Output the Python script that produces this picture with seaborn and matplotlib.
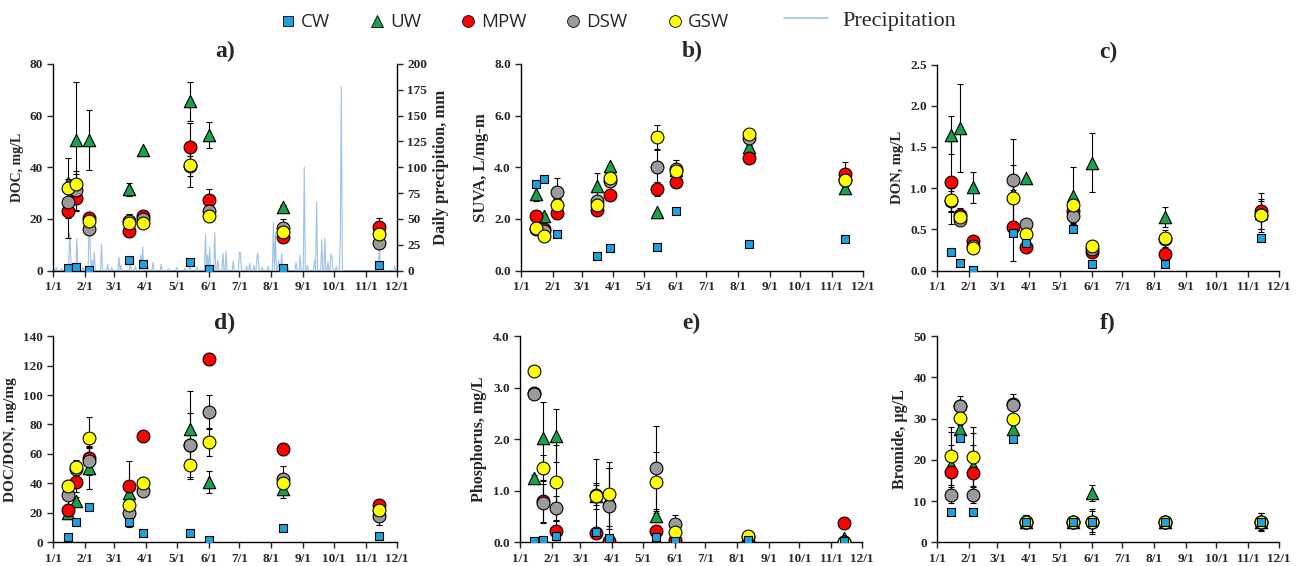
import numpy as np
import pandas as pd
import seaborn as sns
import matplotlib.pyplot as plt
import matplotlib.dates as mdates
import matplotlib.ticker as ticker
from matplotlib.lines import Line2D

sns.set_style("white")
plt.rcParams['font.family'] = ['Liberation Serif', 'DejaVu Serif']
plt.rcParams['font.weight'] = 'bold'

nan = np.nan

# sampling dates
sample_dates = pd.to_datetime(["2019-01-15", "2019-01-23", "2019-02-05", "2019-03-16", "2019-03-29",
                               "2019-05-14", "2019-06-01", "2019-08-12", "2019-11-14"])

sites = ["UW", "MPW", "DSW", "GSW", "CW"]   # draw order
legend_sites = ["CW", "UW", "MPW", "DSW", "GSW"]
colors = {"CW": "#1DA1E2", "UW": "#19A24B", "MPW": "#FF0000", "DSW": "#9B9B9B", "GSW": "#FFFF00"}
markers = {"CW": "s", "UW": "^", "MPW": "o", "DSW": "o", "GSW": "o"}
sizes = {"CW": 28, "UW": 80, "MPW": 85, "DSW": 85, "GSW": 85}

doc = {
    "CW":  [1.0, 1.5, 0.3, 4.0, 2.5, 3.5, 0.5, 1.0, 2.0],
    "UW":  [34, 50.5, 50.5, 31.5, 46.5, 65.5, 52.5, 24.5, 17],
    "MPW": [23, 28, 20.5, 15.5, 21, 48, 27.5, 13, 17],
    "DSW": [26.5, 31, 16, 19, 20, 40.5, 23, 16.5, 10.5],
    "GSW": [32, 33.5, 19, 18.5, 18.5, 41, 21, 15, 14],
}
doc_err = {
    "UW":  [1.5, 22.5, 11.5, 2.5, 1, 7.5, 5, 1, nan],
    "MPW": [10.5, 5, 1, 2.5, 1, 9, 4, 1.5, 3.5],
    "DSW": [3, 7.5, 1, 3, 1, 4, 1.5, 3.5, 1],
    "GSW": [11.5, 4, 1, 2, 1, 8.5, 1, 2, 2],
}

suva = {
    "CW":  [3.35, 3.55, 1.42, 0.57, 0.86, 0.93, 2.30, 1.02, 1.22],
    "UW":  [2.95, 2.10, 2.80, 3.28, 4.05, 2.25, 3.90, 4.78, 3.18],
    "MPW": [2.10, 1.60, 2.22, 2.35, 2.92, 3.15, 3.42, 4.35, 3.73],
    "DSW": [1.60, 1.55, 3.05, 2.70, 3.45, 4.00, 3.95, 5.15, 3.50],
    "GSW": [1.65, 1.32, 2.52, 2.52, 3.58, 5.18, 3.86, 5.28, 3.52],
}
suva_err = {
    "UW":  [0.25, 0.1, 0.1, 0.5, 0.05, 0.05, 0.1, 0.1, 0.1],
    "MPW": [0.05, 0.1, 0.1, 0.1, 0.05, 0.28, 0.1, 0.2, 0.47],
    "DSW": [0.1, 0.15, 0.55, 0.1, 0.1, 0.65, 0.35, 0.1, 0.1],
    "GSW": [0.1, 0.18, 0.1, 0.1, 0.1, 0.47, 0.1, 0.1, 0.1],
}

don = {
    "CW":  [0.22, 0.09, 0.01, 0.46, 0.33, 0.50, 0.08, 0.08, 0.40],
    "UW":  [1.64, 1.73, 1.01, 0.93, 1.12, 0.91, 1.31, 0.65, 0.70],
    "MPW": [1.07, 0.68, 0.36, 0.53, 0.28, 0.72, 0.22, 0.20, 0.72],
    "DSW": [0.84, 0.61, 0.30, 1.10, 0.57, 0.66, 0.26, 0.38, 0.67],
    "GSW": [0.86, 0.65, 0.27, 0.88, 0.44, 0.79, 0.30, 0.39, 0.67],
}
don_err = {
    "UW":  [0.23, 0.53, 0.19, 0.05, 0.02, 0.35, 0.36, 0.12, 0.05],
    "MPW": [0.50, 0.08, 0.03, 0.41, 0.02, 0.12, 0.02, 0.02, 0.22],
    "DSW": [0.13, 0.05, 0.03, 0.50, 0.02, 0.08, 0.02, 0.05, 0.20],
    "GSW": [0.14, 0.05, 0.03, 0.40, 0.02, 0.06, 0.02, 0.10, 0.17],
}

doc_don = {
    "CW":  [3.5, 13.5, 24, 14, 6.5, 6.5, 1.5, 10, 4.5],
    "UW":  [20, 28, 50.5, 33.5, 40, 77, 41, 36, 23],
    "MPW": [22, 41, 57.5, 38, 72.5, 66, 124.5, 63.5, 25],
    "DSW": [32, 50, 55, 20, 34.5, 66, 88.5, 43, 17.5],
    "GSW": [38, 51, 71, 25, 40.5, 52.5, 68, 40.5, 22],
}
doc_don_err = {
    "CW":  [nan, nan, nan, 3.5, nan, nan, nan, nan, nan],
    "UW":  [4, 3, 14, 3, 1, 26, 7.5, 6, 1],
    "MPW": [4, 7, 8, 17.5, 1, 22, 4, 4, 1.5],
    "DSW": [6, 3, 9, 2, 1, 2, 11.5, 9, 6],
    "GSW": [4, 5, 14, 2, 1, 9.5, 9.5, 2, 1],
}

phos = {
    "CW":  [0.02, 0.05, 0.13, 0.20, 0.08, 0.10, 0.02, 0.04, 0.02],
    "UW":  [1.25, 2.02, 2.07, 0.90, 0.85, 0.50, 0.10, 0.05, 0.09],
    "MPW": [2.90, 0.80, 0.21, 0.17, 0.03, 0.22, 0.05, 0.00, 0.37],
    "DSW": [2.88, 0.76, 0.66, 0.92, 0.70, 1.45, 0.35, 0.10, 0.00],
    "GSW": [3.32, 1.44, 1.16, 0.90, 0.94, 1.16, 0.20, 0.12, 0.00],
}
phos_err = {
    "UW":  [0.05, 0.70, 0.52, 0.25, 0.60, 0.10, 0.02, 0.02, 0.02],
    "MPW": [0.02, 0.40, 0.20, 0.05, 0.02, 0.05, 0.02, 0.01, 0.02],
    "DSW": [0.02, 0.38, 0.24, 0.20, 0.75, 0.80, 0.18, 0.02, 0.01],
    "GSW": [0.02, 0.25, 0.72, 0.72, 0.62, 0.60, 0.05, 0.02, 0.01],
}

bromide = {
    "CW":  [7.3, 25.2, 7.3, 25.0, 5, 5, 5, 5, 5],
    "UW":  [18.7, 27.5, 18.6, 27.5, 5, 5, 12, 5, 5],
    "MPW": [17.0, 33.0, 16.8, 33.5, 5, 5, 5, 5, 5],
    "DSW": [11.5, 33.0, 11.5, 33.2, 5, 5, 5, 5, 5],
    "GSW": [21.0, 30.2, 20.8, 30.0, 5, 5, 5, 5, 5],
}
bromide_err = {
    "UW":  [8, 1, 8, 1, 1, 0.5, 2, 0.5, 1],
    "MPW": [6.5, 1, 6.8, 1, 1, 0.5, 1, 0.5, 1],
    "DSW": [2, 2.5, 2, 2.8, 1.5, 0.5, 3, 0.5, 2.2],
    "GSW": [7, 1, 7.2, 1, 1.5, 0.5, 2.5, 0.5, 2],
}

# daily precipitation (mm), days not listed had no rain
precip_days = ["01-04", "01-09", "01-17", "01-18", "01-20", "01-24", "01-30", "02-05", "02-06", "02-08",
               "02-10", "02-17", "02-23", "02-27", "03-06", "03-08", "03-17", "03-22", "03-27", "03-29",
               "04-03", "04-08", "04-16", "04-23", "05-01", "05-09", "05-14", "05-21", "05-29", "05-31",
               "06-02", "06-07", "06-10", "06-15", "06-18", "06-25", "07-01", "07-02", "07-08", "07-11",
               "07-15", "07-18", "07-19", "07-23", "07-29", "08-03", "08-05", "08-08", "08-11", "08-17",
               "08-25", "08-29", "09-02", "09-05", "09-12", "09-14", "09-19", "09-22", "09-25", "09-28",
               "09-29", "10-03", "10-07", "10-08", "11-14", "11-29"]
precip_mm = [3, 2, 36, 14, 6, 31, 3, 58, 20, 10,
             18, 25, 6, 3, 13, 5, 9, 4, 15, 23,
             4, 8, 6, 2, 3, 2, 8, 3, 35, 15,
             23, 37, 10, 17, 19, 9, 18, 17, 4, 7,
             5, 13, 17, 3, 4, 46, 37, 10, 17, 3,
             8, 15, 100, 5, 10, 66, 30, 31, 8, 16,
             13, 4, 30, 178, 28, 4]

precip = pd.Series(precip_mm, index=pd.to_datetime(["2019-" + d for d in precip_days]))
precip = precip.reindex(pd.date_range("2019-01-01", "2019-12-01"), fill_value=0)

x0, x1 = pd.Timestamp("2019-01-01"), pd.Timestamp("2019-12-01")


def draw_panel(ax, values, errors, title, ylabel, ymax, ystep, fmt, label_size=11):
    for site in sites:
        if site in errors:
            ax.errorbar(sample_dates, values[site], yerr=errors[site], fmt='none', ecolor='black',
                        elinewidth=0.8, capsize=2.5, capthick=0.8, zorder=2)
    for site in sites:
        sns.scatterplot(x=sample_dates, y=values[site], ax=ax, marker=markers[site], s=sizes[site],
                        color=colors[site], edgecolor='black', linewidth=0.8, zorder=3, legend=False)
    ax.set_xlim(x0, x1)
    ax.set_ylim(0, ymax)
    ax.yaxis.set_major_locator(ticker.MultipleLocator(ystep))
    ax.yaxis.set_major_formatter(ticker.FormatStrFormatter(fmt))
    ax.xaxis.set_major_locator(mdates.MonthLocator())
    ax.xaxis.set_major_formatter(ticker.FuncFormatter(lambda v, pos: f"{mdates.num2date(v).month}/1"))
    ax.set_title(title, fontsize=17, fontweight='bold', pad=5)
    ax.set_ylabel(ylabel, fontsize=label_size, fontweight='bold')
    ax.set_xlabel("")
    ax.tick_params(axis='both', labelsize=9.5, bottom=True, left=True, direction='out', length=4, width=1)
    for lab in ax.get_xticklabels() + ax.get_yticklabels():
        lab.set_fontweight('bold')
    sns.despine(ax=ax)
    for sp in ['left', 'bottom']:
        ax.spines[sp].set_color('black')
        ax.spines[sp].set_linewidth(1)


fig = plt.figure(figsize=(12.97, 5.66), dpi=100)
ax_a = fig.add_axes([0.041, 0.522, 0.265, 0.365])
ax_b = fig.add_axes([0.402, 0.522, 0.263, 0.365])
ax_c = fig.add_axes([0.7225, 0.522, 0.2635, 0.364])
ax_d = fig.add_axes([0.041, 0.042, 0.265, 0.364])
ax_e = fig.add_axes([0.401, 0.042, 0.2635, 0.364])
ax_f = fig.add_axes([0.7225, 0.042, 0.2635, 0.364])

# precipitation on a twin axis behind panel a
ax_p = ax_a.twinx()
sns.lineplot(x=precip.index, y=precip.values, ax=ax_p, color="#9DC3E6", linewidth=0.8)
ax_p.set_ylim(0, 200)
ax_p.yaxis.set_major_locator(ticker.MultipleLocator(25))
ax_p.set_ylabel("Daily precipition, mm", fontsize=12, fontweight='bold')
ax_p.tick_params(axis='y', labelsize=9.5, right=True, direction='out', length=4, width=1)
for lab in ax_p.get_yticklabels():
    lab.set_fontweight('bold')
for sp in ['top', 'left', 'bottom']:
    ax_p.spines[sp].set_visible(False)
ax_p.spines['right'].set_color('black')
ax_p.spines['right'].set_linewidth(1)
ax_a.set_zorder(ax_p.get_zorder() + 1)
ax_a.patch.set_visible(False)

draw_panel(ax_a, doc, doc_err, "a)", "DOC, mg/L", 80, 20, "%d", label_size=10)
draw_panel(ax_b, suva, suva_err, "b)", "SUVA, L/mg-m", 8, 2, "%.1f", label_size=12)
draw_panel(ax_c, don, don_err, "c)", "DON, mg/L", 2.5, 0.5, "%.1f", label_size=10.5)
draw_panel(ax_d, doc_don, doc_don_err, "d)", "DOC/DON, mg/mg", 140, 20, "%d", label_size=11)
draw_panel(ax_e, phos, phos_err, "e)", "Phosphorus, mg/L", 4, 1, "%.1f", label_size=11.5)
draw_panel(ax_f, bromide, bromide_err, "f)", "Bromide, µg/L", 50, 10, "%d", label_size=11.5)
ax_p.set_xlim(x0, x1)

# legend: site markers, then the precipitation line with a longer handle
handles = [Line2D([], [], linestyle='none', marker=markers[s], markersize=7 if s == "CW" else 8.5,
                  markerfacecolor=colors[s], markeredgecolor='black', markeredgewidth=0.6)
           for s in legend_sites]
leg1 = fig.legend(handles, legend_sites, loc='center left', bbox_to_anchor=(0.2163, 0.961),
                  ncol=5, frameon=False, handlelength=0.8, handletextpad=0.29, columnspacing=2.1,
                  borderpad=0, borderaxespad=0,
                  prop={'family': 'Open Sans', 'size': 13.5, 'weight': 'normal'})
leg2 = fig.legend([Line2D([], [], color="#9DC3E6", linewidth=1.2)], ["Precipitation"],
                  loc='center left', bbox_to_anchor=(0.6045, 0.963), frameon=False,
                  handlelength=2.0, handletextpad=0.63, borderpad=0, borderaxespad=0,
                  prop={'family': 'Liberation Serif', 'size': 16, 'weight': 'normal'})

fig.savefig("out.png", dpi=100)
